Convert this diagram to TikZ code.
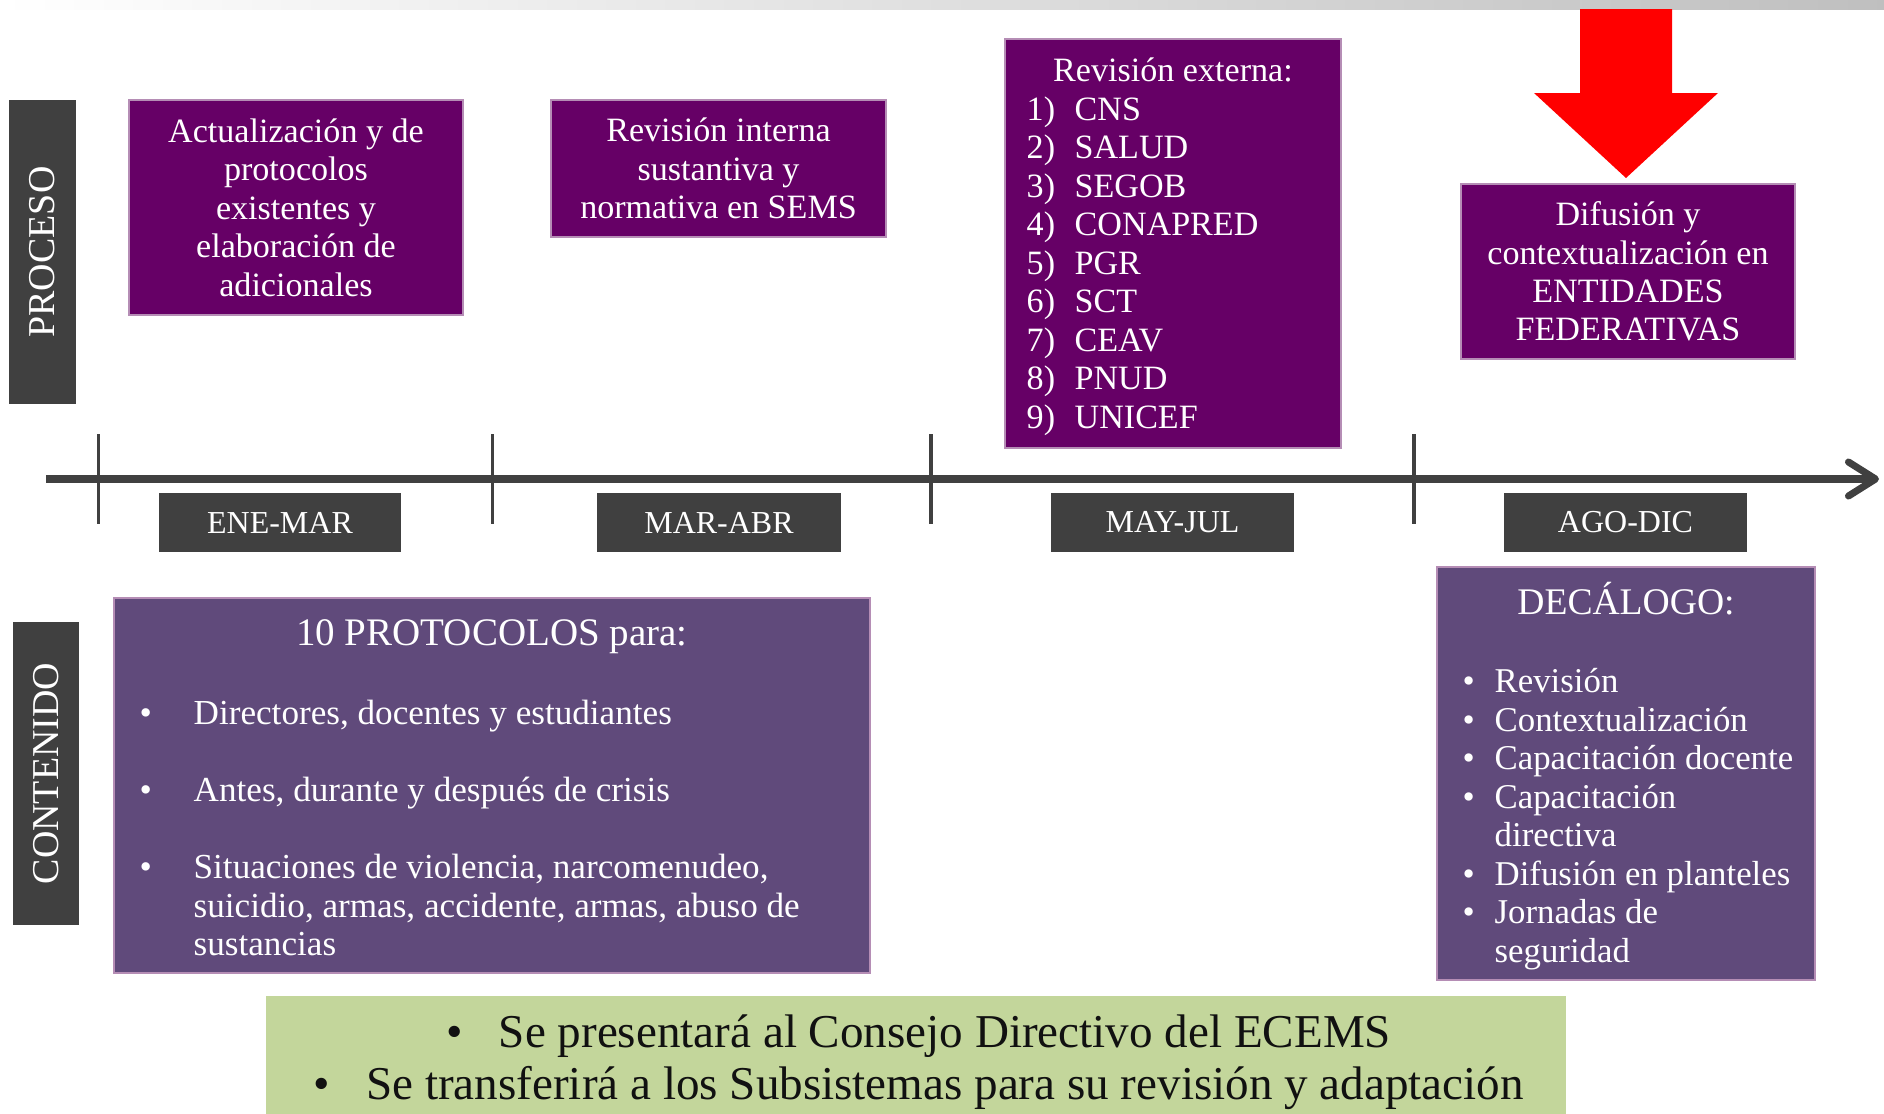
\documentclass[tikz,border=0pt]{standalone}
\usepackage{fontspec}
\setmainfont{Liberation Serif}
\usetikzlibrary{arrows.meta}

\newcommand{\marcaNum}[1]{\makebox[0.48cm][l]{#1}}
\newcommand{\vineta}{\makebox[0.32cm][l]{\textbullet}}
\newcommand{\vinetaAncha}{\makebox[0.54cm][l]{\textbullet}}

\begin{document}
\begin{tikzpicture}[
  caja/.style={fill=moradoOsc, draw=moradoBorde, line width=0.4pt, inner sep=0pt},
  cajaCont/.style={fill=moradoCont, draw=moradoBorde, line width=0.4pt, inner sep=0pt},
  etiqueta/.style={fill=grisOsc, inner sep=0pt, text=white},
  texto/.style={text=white, inner sep=0pt, font=\fontsize{9.7}{10.95}\selectfont},
]

% Colores
\definecolor{moradoOsc}{HTML}{660066}
\definecolor{moradoCont}{HTML}{604A7B}
\definecolor{moradoBorde}{HTML}{B58DB5}
\definecolor{grisOsc}{HTML}{404040}
\definecolor{verdeClaro}{HTML}{C3D69B}
\definecolor{rojoFlecha}{HTML}{FF0000}
\definecolor{textoOsc}{HTML}{111111}

\useasboundingbox (0,0) rectangle (18.84,-11.14);

% Barra superior
\shade[left color=white, right color=black!25] (0,0) rectangle (18.84,-0.09);

% Flecha roja
\fill[rojoFlecha] (15.80,-0.09) -- (16.72,-0.09) -- (16.72,-0.93) -- (17.18,-0.93)
  -- (16.26,-1.78) -- (15.34,-0.93) -- (15.80,-0.93) -- cycle;

% Linea de tiempo
\coordinate (tInicio) at (0.46,-4.79);
\coordinate (tFin) at (18.79,-4.79);
\draw[grisOsc, line width=2pt, -{Straight Barb[length=0.27cm, width=0.34cm, round]}] (tInicio) -- (tFin);

% Marcas
\draw[grisOsc, line width=1.1pt] (0.985,-4.34) -- (0.985,-5.24);
\draw[grisOsc, line width=1.1pt] (4.925,-4.34) -- (4.925,-5.24);
\draw[grisOsc, line width=1.1pt] (9.31,-4.34) -- (9.31,-5.24);
\draw[grisOsc, line width=1.1pt] (14.14,-4.34) -- (14.14,-5.24);

% Periodos
\node[etiqueta, minimum width=2.42cm, minimum height=0.59cm, font=\fontsize{9.1}{10}\selectfont] (eneMar) at (2.80,-5.225) {ENE-MAR};
\node[etiqueta, minimum width=2.44cm, minimum height=0.59cm, font=\fontsize{9.1}{10}\selectfont] (marAbr) at (7.19,-5.225) {MAR-ABR};
\node[etiqueta, minimum width=2.43cm, minimum height=0.59cm, font=\fontsize{9.1}{10}\selectfont] (mayJul) at (11.725,-5.225) {MAY-JUL};
\node[etiqueta, minimum width=2.43cm, minimum height=0.59cm, font=\fontsize{9.1}{10}\selectfont] (agoDic) at (16.255,-5.225) {AGO-DIC};

% Etiquetas laterales
\node[etiqueta, rotate=90, minimum width=3.04cm, minimum height=0.67cm, font=\fontsize{10.8}{12}\selectfont] (proceso) at (0.425,-2.52) {PROCESO};
\node[etiqueta, rotate=90, minimum width=3.03cm, minimum height=0.66cm, font=\fontsize{10.8}{12}\selectfont] (contenido) at (0.46,-7.735) {CONTENIDO};

% Proceso
\node[caja, texto, align=center, minimum width=3.34cm, minimum height=2.15cm] (actualiza) at (2.96,-2.075)
  {Actualización y de\\protocolos\\existentes y\\elaboración de\\adicionales};
\node[caja, texto, align=center, minimum width=3.35cm, minimum height=1.37cm] (interna) at (7.185,-1.685)
  {Revisión interna\\sustantiva y\\normativa en SEMS};
\node[caja, minimum width=3.36cm, minimum height=4.09cm] (externa) at (11.73,-2.435) {};
\node[texto] (externaTit) at (11.73,-0.70) {Revisión externa:};
\node[texto, anchor=west, align=left] (externaLista) at (10.26,-2.66)
  {\marcaNum{1)}CNS\\\marcaNum{2)}SALUD\\\marcaNum{3)}SEGOB\\\marcaNum{4)}CONAPRED\\\marcaNum{5)}PGR\\
   \marcaNum{6)}SCT\\\marcaNum{7)}CEAV\\\marcaNum{8)}PNUD\\\marcaNum{9)}UNICEF};
\node[caja, texto, align=center, minimum width=3.34cm, minimum height=1.75cm] (difusion) at (16.28,-2.715)
  {Difusión y\\contextualización en\\ENTIDADES\\FEDERATIVAS};

% Contenido
\node[cajaCont, minimum width=7.56cm, minimum height=3.75cm] (protocolos) at (4.92,-7.855) {};
\node[texto, font=\fontsize{11.1}{12.5}\selectfont] (protocolosTit) at (4.92,-6.37) {10 PROTOCOLOS para:};
\node[texto, anchor=west, align=left, font=\fontsize{10.0}{10.95}\selectfont] (protocolosLista) at (1.39,-8.28)
  {\vinetaAncha Directores, docentes y estudiantes\\[0.385cm]
   \vinetaAncha Antes, durante y después de crisis\\[0.385cm]
   \vinetaAncha Situaciones de violencia, narcomenudeo,\\
   \hspace*{0.54cm}suicidio, armas, accidente, armas, abuso de\\
   \hspace*{0.54cm}sustancias};

\node[cajaCont, minimum width=3.78cm, minimum height=4.13cm] (decalogo) at (16.26,-7.735) {};
\node[texto, font=\fontsize{10.7}{12}\selectfont] (decalogoTit) at (16.26,-5.99) {DECÁLOGO:};
\node[texto, anchor=west, align=left, font=\fontsize{9.9}{10.95}\selectfont] (decalogoLista) at (14.62,-8.19)
  {\vineta Revisión\\\vineta Contextualización\\\vineta Capacitación docente\\\vineta Capacitación\\
   \hspace*{0.32cm}directiva\\\vineta Difusión en planteles\\\vineta Jornadas de\\\hspace*{0.32cm}seguridad};

% Acuerdos
\node[fill=verdeClaro, inner sep=0pt, minimum width=13cm, minimum height=1.18cm] (acuerdos) at (9.16,-10.55) {};
\node[inner sep=0pt, align=center, text=textoOsc, font=\fontsize{13.4}{14.8}\selectfont] (acuerdosTxt) at (9.185,-10.62)
  {\makebox[0.53cm][l]{\textbullet}Se presentará al Consejo Directivo del ECEMS\\
   \makebox[0.53cm][l]{\textbullet}Se transferirá a los Subsistemas para su revisión y adaptación};
\end{tikzpicture}
\end{document}
